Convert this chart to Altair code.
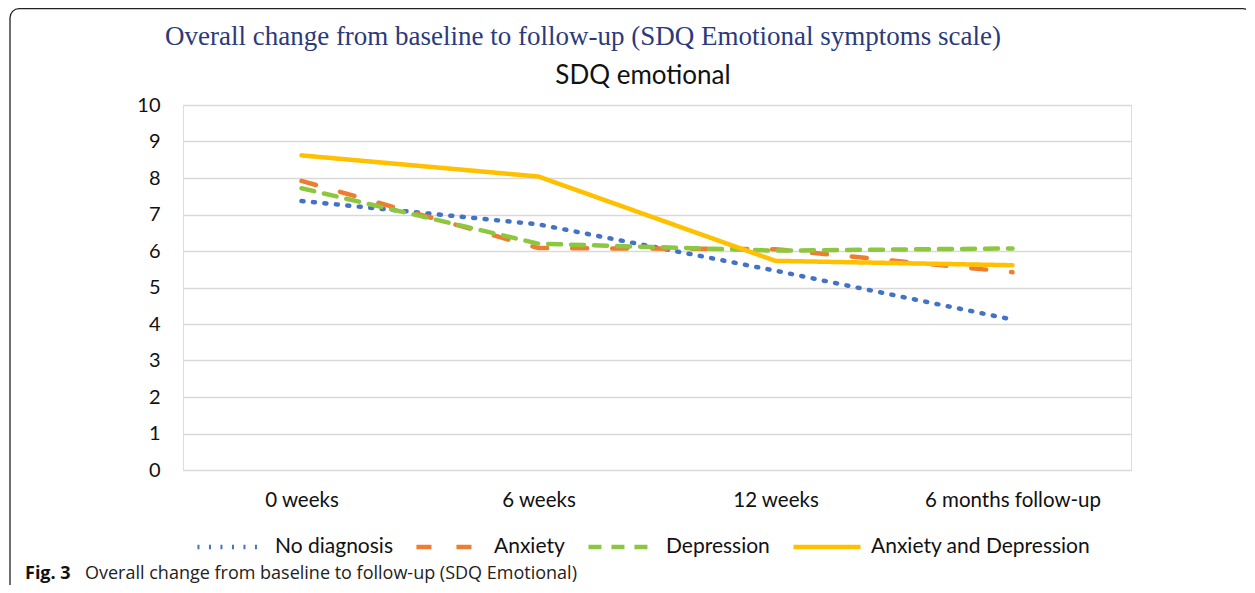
import altair as alt
import pandas as pd

timepoints = ["0 weeks", "6 weeks", "12 weeks", "6 months follow-up"]
series_names = ["No diagnosis", "Anxiety", "Depression", "Anxiety and Depression"]
no_diagnosis = [7.37, 6.73, 5.46, 4.12]
anxiety = [7.92, 6.08, 6.05, 5.42]
depression = [7.72, 6.20, 6.01, 6.07]
anx_dep = [8.62, 8.04, 5.73, 5.61]
y_ticks = list(range(0, 11))
colors = ["#4472C4", "#ED7D31", "#8DC63F", "#FFC000"]
dashes = [[2, 9.5], [15, 25], [13, 10], [1, 0]]

main_title = "Overall change from baseline to follow-up (SDQ Emotional symptoms scale)"
sub_title = "SDQ emotional"
fig_label = "Fig. 3"
fig_caption = "Overall change from baseline to follow-up (SDQ Emotional)"

rows = []
for name, vals in zip(series_names, [no_diagnosis, anxiety, depression, anx_dep]):
    for t, v in zip(timepoints, vals):
        rows.append({"series": name, "time": t, "value": v})
df = pd.DataFrame(rows)

W, H = 948, 365
PL, PT = 175, 97
TOTAL_W, TOTAL_H = 1238, 577

lines = alt.Chart(df).mark_line(strokeWidth=4.5, strokeCap="round", strokeJoin="round").encode(
    x=alt.X("time:N", sort=timepoints, scale=alt.Scale(domain=timepoints, padding=0.5),
            axis=alt.Axis(title=None, domain=False, ticks=False, grid=False, labelAngle=0,
                          labelFont="Lato", labelFontSize=20.5, labelColor="#111111", labelPadding=20)),
    y=alt.Y("value:Q", scale=alt.Scale(domain=[0, 10], nice=False),
            axis=alt.Axis(title=None, domain=False, ticks=False, values=y_ticks, grid=True,
                          gridColor="#D9D9D9", gridWidth=1.5, labelFont="Lato", labelFontSize=20,
                          labelColor="#111111", labelPadding=23)),
    color=alt.Color("series:N", sort=series_names,
                    scale=alt.Scale(domain=series_names, range=colors),
                    legend=alt.Legend(orient="none", direction="horizontal", legendX=12, legendY=406,
                                      title=None, symbolType="stroke", symbolSize=4500,
                                      symbolStrokeWidth=4.5, labelFont="Lato", labelFontSize=21,
                                      labelColor="#111111", labelOffset=8, columnPadding=14,
                                      labelLimit=400)),
    strokeDash=alt.StrokeDash("series:N", sort=series_names,
                              scale=alt.Scale(domain=series_names, range=dashes)),
)

frame_df = pd.DataFrame({"k": [0]})
frame = alt.Chart(frame_df).mark_rect(fill="white", fillOpacity=0, stroke="#222222",
                                      strokeWidth=1.3, cornerRadius=9).encode(
    x=alt.value(-173), x2=alt.value(1069), y=alt.value(-96.3), y2=alt.value(600)
)

title_df = pd.DataFrame({"t": [main_title]})
title = alt.Chart(title_df).mark_text(font="Liberation Serif", fontSize=27, color="#2B3A7A",
                                      align="center", baseline="middle").encode(
    text="t:N", x=alt.value(400), y=alt.value(-68))

sub_df = pd.DataFrame({"t": [sub_title]})
sub = alt.Chart(sub_df).mark_text(font="Lato", fontSize=26, color="#111111",
                                  align="center", baseline="middle").encode(
    text="t:N", x=alt.value(460), y=alt.value(-29))

fig_df = pd.DataFrame({"t": [fig_label]})
fig = alt.Chart(fig_df).mark_text(font="Open Sans", fontSize=18, fontWeight="bold", color="#111111",
                                  align="left", baseline="middle").encode(
    text="t:N", x=alt.value(-158), y=alt.value(469))

cap_df = pd.DataFrame({"t": [fig_caption]})
cap = alt.Chart(cap_df).mark_text(font="Open Sans", fontSize=18, color="#222222",
                                  align="left", baseline="middle").encode(
    text="t:N", x=alt.value(-98), y=alt.value(469))

chart = alt.layer(frame, lines, title, sub, fig, cap).properties(
    width=W, height=H,
    autosize=alt.AutoSizeParams(type="none"),
    padding={"left": PL, "top": PT, "right": TOTAL_W - PL - W, "bottom": TOTAL_H - PT - H},
).configure_view(stroke=None).configure(background="white")

chart.save("out.html", embed_options={"renderer": "svg", "actions": False})
